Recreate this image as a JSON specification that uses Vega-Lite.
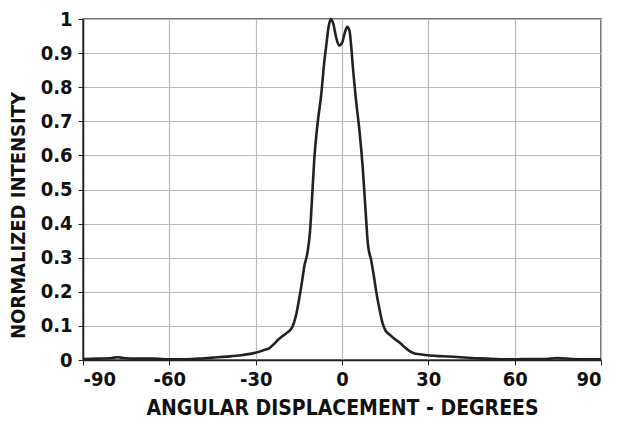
{
  "$schema": "https://vega.github.io/schema/vega-lite/v6.json",
  "width": 518,
  "height": 341,
  "autosize": {"type": "none"},
  "padding": {"left": 83, "top": 19, "right": 23, "bottom": 63},
  "background": "white",
  "config": {
    "view": {"stroke": "#444", "strokeWidth": 1.5},
    "font": "DejaVu Sans Condensed"
  },
  "data": {
    "values": [
      {"x": -90, "y": 0.003}, {"x": -85, "y": 0.004}, {"x": -80, "y": 0.006}, {"x": -78, "y": 0.008},
      {"x": -76, "y": 0.006}, {"x": -72, "y": 0.004}, {"x": -65, "y": 0.004}, {"x": -60, "y": 0.002},
      {"x": -55, "y": 0.002}, {"x": -50, "y": 0.004}, {"x": -45, "y": 0.007}, {"x": -40, "y": 0.010},
      {"x": -35, "y": 0.014}, {"x": -32, "y": 0.018}, {"x": -30, "y": 0.021}, {"x": -27.5, "y": 0.028},
      {"x": -25.2, "y": 0.035}, {"x": -23.5, "y": 0.048}, {"x": -22.4, "y": 0.058}, {"x": -21, "y": 0.068},
      {"x": -19.4, "y": 0.078}, {"x": -18, "y": 0.088}, {"x": -17.1, "y": 0.10}, {"x": -16, "y": 0.13},
      {"x": -14.8, "y": 0.183}, {"x": -13.8, "y": 0.235}, {"x": -13.1, "y": 0.275}, {"x": -12, "y": 0.315},
      {"x": -11.1, "y": 0.378}, {"x": -10.4, "y": 0.476}, {"x": -9.6, "y": 0.593}, {"x": -8.4, "y": 0.70},
      {"x": -7.2, "y": 0.78}, {"x": -6.2, "y": 0.87}, {"x": -5.5, "y": 0.92}, {"x": -4.6, "y": 0.98},
      {"x": -3.8, "y": 1.0}, {"x": -3.0, "y": 0.985}, {"x": -2.0, "y": 0.945}, {"x": -1.0, "y": 0.922},
      {"x": 0, "y": 0.93}, {"x": 1.0, "y": 0.96}, {"x": 1.8, "y": 0.977}, {"x": 2.6, "y": 0.965},
      {"x": 3.2, "y": 0.92}, {"x": 3.8, "y": 0.857}, {"x": 4.9, "y": 0.76}, {"x": 6.1, "y": 0.67},
      {"x": 7.2, "y": 0.564}, {"x": 8.2, "y": 0.437}, {"x": 9.0, "y": 0.34}, {"x": 10.2, "y": 0.29},
      {"x": 11.0, "y": 0.25}, {"x": 11.9, "y": 0.20}, {"x": 13, "y": 0.15}, {"x": 14.2, "y": 0.105},
      {"x": 15.2, "y": 0.085}, {"x": 16.5, "y": 0.075}, {"x": 18, "y": 0.064}, {"x": 20, "y": 0.051},
      {"x": 22, "y": 0.036}, {"x": 23.5, "y": 0.026}, {"x": 25, "y": 0.02}, {"x": 27, "y": 0.017},
      {"x": 30.5, "y": 0.013}, {"x": 35, "y": 0.011}, {"x": 40, "y": 0.009}, {"x": 45, "y": 0.006},
      {"x": 50, "y": 0.004}, {"x": 55, "y": 0.002}, {"x": 60, "y": 0.002}, {"x": 65, "y": 0.003},
      {"x": 70, "y": 0.003}, {"x": 75, "y": 0.006}, {"x": 80, "y": 0.003}, {"x": 85, "y": 0.002},
      {"x": 90, "y": 0.002}
    ]
  },
  "mark": {"type": "line", "color": "#222", "strokeWidth": 2.6, "interpolate": "monotone"},
  "encoding": {
    "x": {
      "field": "x", "type": "quantitative",
      "scale": {"domain": [-90, 90], "nice": false},
      "axis": {
        "values": [-90, -60, -30, 0, 30, 60, 90],
        "labelExpr": "datum.value < 0 ? '-' + abs(datum.value) : '' + datum.value",
        "title": "ANGULAR DISPLACEMENT - DEGREES",
        "titleFont": "DejaVu Sans Condensed", "titleFontSize": 21, "titleFontWeight": "bold", "titleColor": "#111",
        "labelFont": "DejaVu Sans Condensed", "labelFontSize": 20, "labelFontWeight": "bold", "labelColor": "#111",
        "domainColor": "#222", "domainWidth": 1.5, "tickColor": "#222", "tickSize": 5,
        "gridColor": "#bbb", "gridWidth": 1.2, "titlePadding": 8, "labelPadding": 4
      }
    },
    "y": {
      "field": "y", "type": "quantitative",
      "scale": {"domain": [0, 1], "nice": false},
      "axis": {
        "values": [0, 0.1, 0.2, 0.3, 0.4, 0.5, 0.6, 0.7, 0.8, 0.9, 1],
        "format": "~g",
        "title": "NORMALIZED INTENSITY",
        "titleY": 196,
        "titleFont": "DejaVu Sans Condensed", "titleFontSize": 20, "titleFontWeight": "bold", "titleColor": "#111",
        "labelFont": "DejaVu Sans Condensed", "labelFontSize": 20, "labelFontWeight": "bold", "labelColor": "#111",
        "domainColor": "#222", "domainWidth": 1.5, "tickColor": "#222", "tickSize": 5,
        "gridColor": "#bbb", "gridWidth": 1.2, "titlePadding": 12, "labelPadding": 6
      }
    }
  }
}
